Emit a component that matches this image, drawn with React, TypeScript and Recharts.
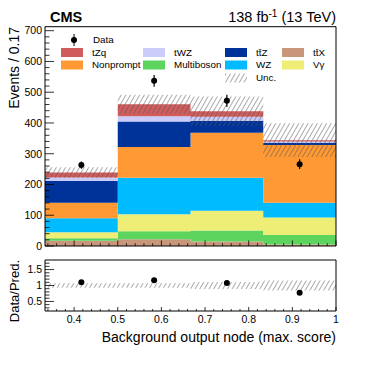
import React from 'react';
import { ComposedChart, Area, Scatter, ErrorBar, XAxis, YAxis, ReferenceArea } from 'recharts';

// ---- data ----
const binEdges = [1 / 3, 0.5, 2 / 3, 5 / 6, 1];
const ttX = [17, 22, 15, 5];
const multiboson = [8, 26, 35, 31];
const vGamma = [20, 55, 65, 57];
const wz = [45, 119, 107, 48];
const nonprompt = [51, 100, 146, 187];
const ttZ = [70, 83, 39, 7];
const tWZ = [12, 17, 13, 5];
const tZq = [16, 39, 18, 4];
const dataObs = [263, 537, 472, 266];
const dataErr = [12, 19, 20, 16];
const totalUnc = [17, 31, 48, 55];

const xMajorLabels = [0.4, 0.5, 0.6, 0.7, 0.8, 0.9, 1];
const mainYLabels = [0, 100, 200, 300, 400, 500, 600, 700];
const ratioYLabels = [0.5, 1, 1.5];

const FONT = '"Liberation Sans", Arial, Helvetica, sans-serif';

type Proc = { key: string; name: string; color: string; values: number[] };
// bottom -> top stacking order
const processes: Proc[] = [
  { key: 'ttX', name: 'tt\u0304X', color: '#c8977b', values: ttX },
  { key: 'multiboson', name: 'Multiboson', color: '#5dd45d', values: multiboson },
  { key: 'vGamma', name: 'V\u03b3', color: '#eeee77', values: vGamma },
  { key: 'wz', name: 'WZ', color: '#00bbff', values: wz },
  { key: 'nonprompt', name: 'Nonprompt', color: '#ff9933', values: nonprompt },
  { key: 'ttZ', name: 'tt\u0304Z', color: '#003399', values: ttZ },
  { key: 'tWZ', name: 'tWZ', color: '#ccccfa', values: tWZ },
  { key: 'tZq', name: 'tZq', color: '#d05c5c', values: tZq },
];
const legendGrid = [
  ['tZq', 'tWZ', 'ttZ', 'ttX'],
  ['nonprompt', 'multiboson', 'wz', 'vGamma'],
];

const totals = dataObs.map((_, i) => processes.reduce((s, p) => s + p.values[i], 0));

const mainRows = binEdges.map((x, i) => {
  const j = Math.min(i, dataObs.length - 1);
  const row: any = { x };
  processes.forEach((p) => (row[p.key] = p.values[j]));
  row.unc = [totals[j] - totalUnc[j], totals[j] + totalUnc[j]];
  return row;
});
const ratioRows = binEdges.map((x, i) => {
  const j = Math.min(i, dataObs.length - 1);
  return { x, band: [1 - totalUnc[j] / totals[j], 1 + totalUnc[j] / totals[j]] };
});
const centers = dataObs.map((_, i) => (binEdges[i] + binEdges[i + 1]) / 2);
const dataPoints = dataObs.map((d, i) => ({ x: centers[i], y: d, err: dataErr[i] }));
const ratioPoints = dataObs.map((d, i) => ({ x: centers[i], y: d / totals[i], err: dataErr[i] / totals[i] }));

const range = (a: number, b: number, step: number) => {
  const out: number[] = [];
  for (let v = a; v <= b + 1e-9; v += step) out.push(Math.round(v * 1000) / 1000);
  return out;
};
const xTicks = range(0.34, 1, 0.02);
const mainYTicks = range(0, 700, 20);
const ratioYTicks = range(0.3, 1.7, 0.1);

const near = (arr: number[], v: number) => arr.some((a) => Math.abs(a - v) < 1e-6);

const YTick = (labels: number[]) => (props: any) => {
  const { x, y, payload } = props;
  const major = near(labels, payload.value);
  return (
    <g>
      <line x1={x} x2={x + (major ? 9 : 4.5)} y1={y} y2={y} stroke="#000" strokeWidth={0.8} />
      {major && (
        <text x={x - 3} y={y} dy="0.36em" textAnchor="end" fontSize={10.5} fontFamily={FONT} fill="#000">
          {String(payload.value)}
        </text>
      )}
    </g>
  );
};
const XTick = (showLabels: boolean, majorLen: number) => (props: any) => {
  const { x, y, payload } = props;
  const major = near(xMajorLabels, payload.value);
  return (
    <g>
      <line x1={x} x2={x} y1={y} y2={y - (major ? majorLen : majorLen / 2)} stroke="#000" strokeWidth={0.8} />
      {major && showLabels && (
        <text x={x} y={y + 12} textAnchor="middle" fontSize={10.5} fontFamily={FONT} fill="#000">
          {String(payload.value)}
        </text>
      )}
    </g>
  );
};

const Hatch = ({ id }: { id: string }) => (
  <pattern id={id} width="4" height="4" patternUnits="userSpaceOnUse" patternTransform="rotate(30)">
    <line x1="0" y1="0" x2="0" y2="4" stroke="#555" strokeWidth="1" />
  </pattern>
);

const colX = [61, 143, 225, 282];
const rowY = [52.5, 65, 78];

const LegendBox = () => {
  const byKey: Record<string, Proc> = {};
  processes.forEach((p) => (byKey[p.key] = p));
  const txt = (x: number, y: number, s: string) => (
    <div style={{ position: 'absolute', left: x, top: y - 7, height: 14, lineHeight: '14px', fontSize: 9.8, fontFamily: FONT, color: '#000', whiteSpace: 'nowrap' }}>{s}</div>
  );
  return (
    <div style={{ position: 'absolute', left: 0, top: 0, width: 374, height: 100, pointerEvents: 'none' }}>
      <svg width={374} height={100} style={{ position: 'absolute', left: 0, top: 0 }}>
        <defs>
          <Hatch id="hatchLeg" />
        </defs>
        <line x1={74} x2={74} y1={34} y2={46} stroke="#000" strokeWidth={1} />
        <circle cx={74} cy={40} r={3} fill="#000" />
        {legendGrid.map((row, r) =>
          row.map((k, c) => (
            <rect key={k} x={colX[c]} y={rowY[r] - 4.5} width={22} height={9} fill={byKey[k].color} />
          ))
        )}
        <rect x={colX[2]} y={rowY[2] - 4.5} width={22} height={9} fill="url(#hatchLeg)" />
      </svg>
      {txt(93, 40, 'Data')}
      {legendGrid.map((row, r) => row.map((k, c) => <React.Fragment key={k}>{txt(colX[c] + 31, rowY[r], byKey[k].name)}</React.Fragment>))}
      {txt(colX[2] + 31, rowY[2], 'Unc.')}
    </div>
  );
};

export default function App() {
  const X0 = binEdges[0];
  const X1 = binEdges[binEdges.length - 1];
  return (
    <div style={{ position: 'absolute', left: 0, top: 0, width: 374, height: 367, background: '#fff', overflow: 'hidden' }}>
      <div style={{ position: 'absolute', left: 0, top: 0 }}>
        <ComposedChart width={374} height={260} data={mainRows} margin={{ top: 26.7, right: 38, bottom: 4, left: 5 }}>
          <defs>
            <Hatch id="hatchMain" />
          </defs>
          <XAxis dataKey="x" type="number" domain={[X0, X1]} allowDataOverflow ticks={xTicks} interval={0} tickSize={0} tickMargin={0} axisLine={false} tickLine={false} tick={XTick(false, 5.5)} height={10} />
          <YAxis type="number" domain={[0, 713]} allowDataOverflow ticks={mainYTicks} interval={0} tickSize={0} tickMargin={0} axisLine={false} tickLine={false} tick={YTick(mainYLabels)} width={40} />
          {processes.map((p) => (
            <Area key={p.key} dataKey={p.key} stackId="bkg" type="stepAfter" fill={p.color} fillOpacity={1} stroke="none" isAnimationActive={false} />
          ))}
          <Area dataKey="unc" type="stepAfter" fill="url(#hatchMain)" fillOpacity={1} stroke="none" isAnimationActive={false} />
          <Scatter data={dataPoints} dataKey="y" fill="#000" shape={(pr: any) => <circle cx={pr.cx} cy={pr.cy} r={3} fill="#000" />} isAnimationActive={false}>
            <ErrorBar dataKey="err" direction="y" width={0} stroke="#000" strokeWidth={1.2} />
          </Scatter>
          <ReferenceArea x1={X0} x2={X1} y1={0} y2={713} fill="none" stroke="#000" strokeWidth={1} />
        </ComposedChart>
      </div>
      <LegendBox />
      <div style={{ position: 'absolute', left: 0, top: 250 }}>
        <ComposedChart width={374} height={117} data={ratioRows} margin={{ top: 10, right: 38, bottom: 36, left: 5 }}>
          <defs>
            <Hatch id="hatchRatio" />
          </defs>
          <XAxis dataKey="x" type="number" domain={[X0, X1]} allowDataOverflow ticks={xTicks} interval={0} tickSize={0} tickMargin={0} axisLine={false} tickLine={false} tick={XTick(true, 4)} height={20} />
          <YAxis type="number" domain={[0.2, 1.8]} allowDataOverflow ticks={ratioYTicks} interval={0} tickSize={0} tickMargin={0} axisLine={false} tickLine={false} tick={YTick(ratioYLabels)} width={40} />
          <Area dataKey="band" type="stepAfter" fill="url(#hatchRatio)" fillOpacity={1} stroke="none" isAnimationActive={false} />
          <Scatter data={ratioPoints} dataKey="y" fill="#000" shape={(pr: any) => <circle cx={pr.cx} cy={pr.cy} r={3} fill="#000" />} isAnimationActive={false}>
            <ErrorBar dataKey="err" direction="y" width={0} stroke="#000" strokeWidth={1} />
          </Scatter>
          <ReferenceArea x1={X0} x2={X1} y1={0.2} y2={1.8} fill="none" stroke="#000" strokeWidth={1} />
        </ComposedChart>
      </div>
      <svg width={374} height={367} style={{ position: 'absolute', left: 0, top: 0, pointerEvents: 'none' }}>
        <text x={50} y={22} fontSize={14.5} fontWeight="bold" fontFamily={FONT} fill="#000">CMS</text>
        <text x={336} y={22} textAnchor="end" fontSize={14.5} fontFamily={FONT} fill="#000">
          138 fb<tspan dy={-5} fontSize={10}>-1</tspan><tspan dy={5}> (13 TeV)</tspan>
        </text>
        <text transform="translate(19,27) rotate(-90)" textAnchor="end" fontSize={14} fontFamily={FONT} fill="#000">Events / 0.17</text>
        <text transform="translate(19,260) rotate(-90)" textAnchor="end" fontSize={13} fontFamily={FONT} fill="#000">Data/Pred.</text>
        <text x={336} y={342} textAnchor="end" fontSize={14} fontFamily={FONT} fill="#000">Background output node (max. score)</text>
      </svg>
    </div>
  );
}
